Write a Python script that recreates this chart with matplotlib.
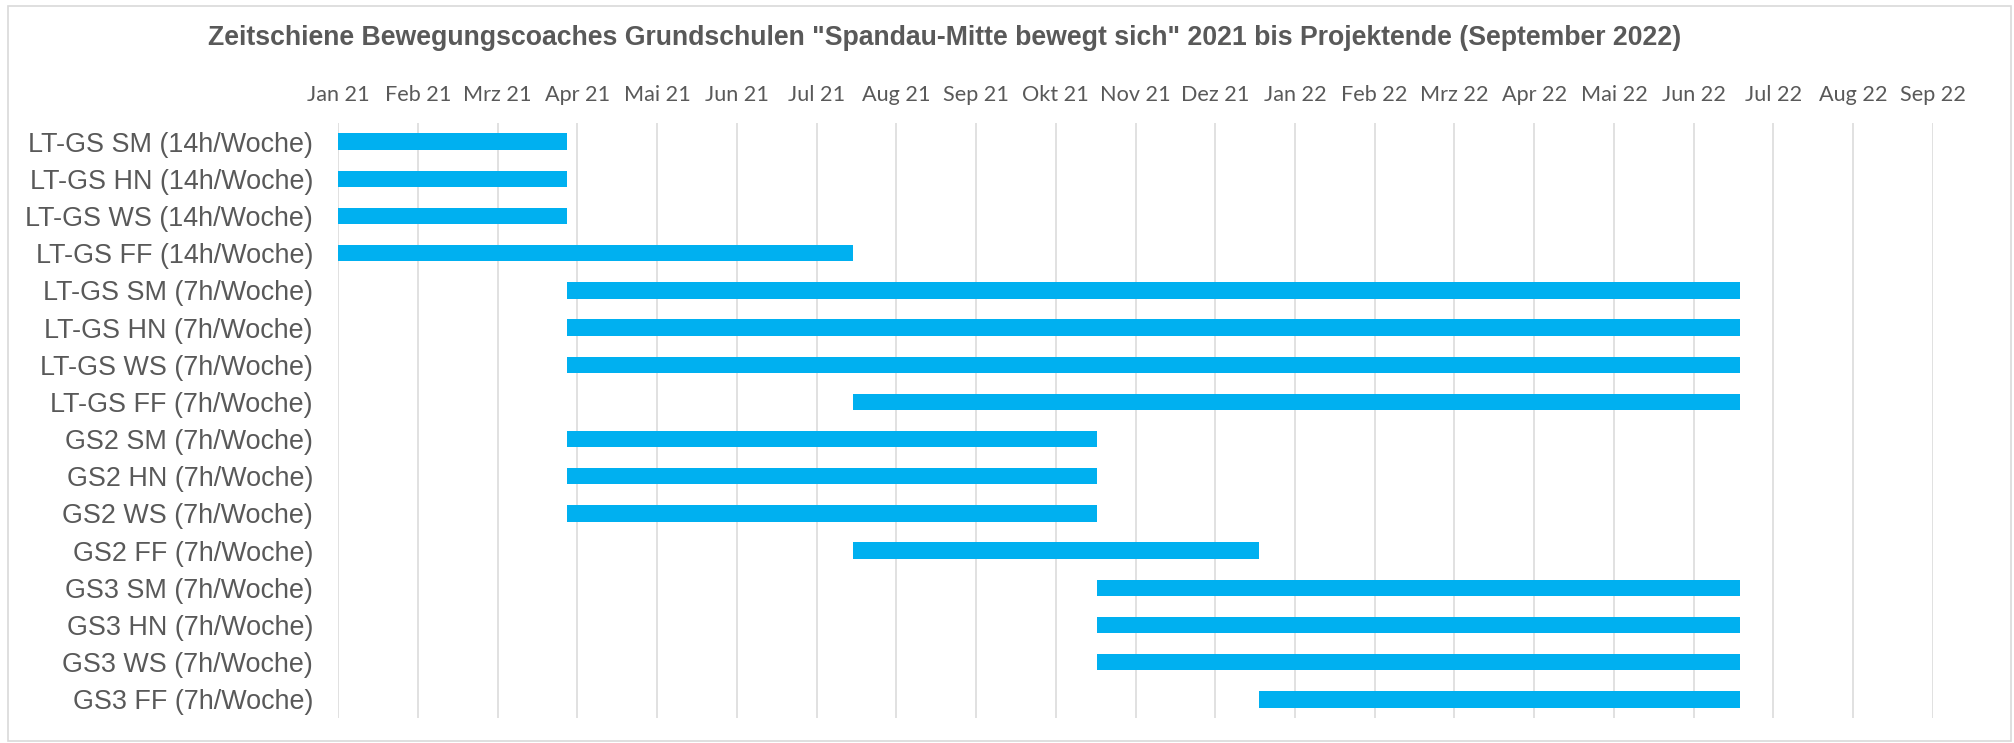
import matplotlib
matplotlib.use("Agg")
import matplotlib.pyplot as plt
from matplotlib.patches import Rectangle
import pandas as pd
import numpy as np

# ---- data ----
rows = [
    "LT-GS SM (14h/Woche)", "LT-GS HN (14h/Woche)", "LT-GS WS (14h/Woche)", "LT-GS FF (14h/Woche)",
    "LT-GS SM (7h/Woche)", "LT-GS HN (7h/Woche)", "LT-GS WS (7h/Woche)", "LT-GS FF (7h/Woche)",
    "GS2 SM (7h/Woche)", "GS2 HN (7h/Woche)", "GS2 WS (7h/Woche)", "GS2 FF (7h/Woche)",
    "GS3 SM (7h/Woche)", "GS3 HN (7h/Woche)", "GS3 WS (7h/Woche)", "GS3 FF (7h/Woche)",
]
start_dates = [
    "2021-01-01", "2021-01-01", "2021-01-01", "2021-01-01",
    "2021-03-31", "2021-03-31", "2021-03-31", "2021-07-20",
    "2021-03-31", "2021-03-31", "2021-03-31", "2021-07-20",
    "2021-10-23", "2021-10-23", "2021-10-23", "2021-12-25",
]
end_dates = [
    "2021-03-31", "2021-03-31", "2021-03-31", "2021-07-20",
    "2022-06-30", "2022-06-30", "2022-06-30", "2022-06-30",
    "2021-10-23", "2021-10-23", "2021-10-23", "2021-12-25",
    "2022-06-30", "2022-06-30", "2022-06-30", "2022-06-30",
]
tick_labels = [
    "Jan 21", "Feb 21", "Mrz 21", "Apr 21", "Mai 21", "Jun 21", "Jul 21",
    "Aug 21", "Sep 21", "Okt 21", "Nov 21", "Dez 21", "Jan 22", "Feb 22",
    "Mrz 22", "Apr 22", "Mai 22", "Jun 22", "Jul 22", "Aug 22", "Sep 22",
]
title = ('Zeitschiene Bewegungscoaches Grundschulen "Spandau-Mitte bewegt sich" '
         '2021 bis Projektende (September 2022)')

axis_start = pd.Timestamp("2021-01-01")
major_unit_days = 31

starts = np.array([(pd.Timestamp(d) - axis_start).days for d in start_dates], dtype=float)
ends = np.array([(pd.Timestamp(d) - axis_start).days for d in end_dates], dtype=float)

# ---- figure ----
W, H = 2015, 743
fig = plt.figure(figsize=(W / 100, H / 100), dpi=100)
fig.patch.set_facecolor("white")

left, right, top, bottom = 338, 1933, 123, 718
ax = fig.add_axes([left / W, 1 - bottom / H, (right - left) / W, (bottom - top) / H])

text_col = "#595959"
grid_col = "#D9D9D9"
bar_col = "#00B0F0"

y = np.arange(len(rows))
ax.barh(y, ends - starts, left=starts, height=0.44, color=bar_col, edgecolor="none", zorder=3)

ticks = np.arange(len(tick_labels)) * major_unit_days
ax.set_xlim(0, ticks[-1])
ax.set_ylim(len(rows) - 0.5, -0.5)
ax.set_xticks(ticks)
ax.set_xticklabels(tick_labels, fontsize=15.6, color=text_col, family=["Lato", "DejaVu Sans"])
ax.xaxis.tick_top()
ax.tick_params(axis="x", length=0, pad=13)
ax.set_yticks(y)
ax.set_yticklabels(rows, fontsize=19.4, color=text_col, family=["Liberation Sans", "DejaVu Sans"])
ax.tick_params(axis="y", length=0, pad=18)
ax.grid(axis="x", color=grid_col, linewidth=1.1, zorder=0)
ax.set_axisbelow(True)
for s in ax.spines.values():
    s.set_visible(False)

fig.text(945 / W, 1 - 38 / H, title, ha="center", va="center", fontsize=19.2,
         fontweight="bold", color=text_col, family=["Liberation Sans", "DejaVu Sans"])

# chart area border
fig.add_artist(Rectangle((8 / W, 1 - 741 / H), (2011 - 8) / W, (741 - 6) / H,
                         transform=fig.transFigure, fill=False, edgecolor=grid_col, linewidth=1.2))

fig.savefig("out.png", dpi=100)
